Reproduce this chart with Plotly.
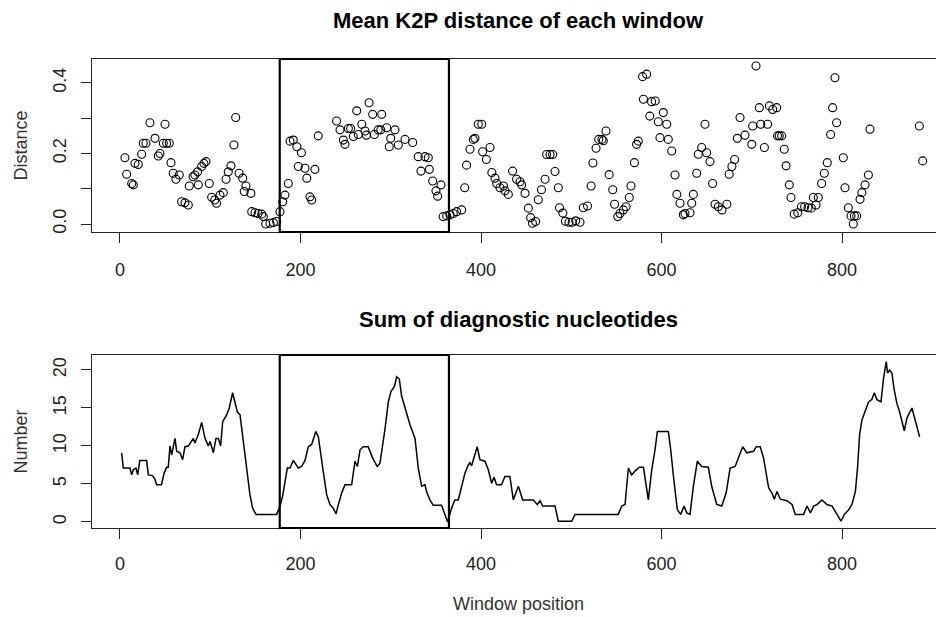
import plotly.graph_objects as go

# ---------------- data ----------------
window_top = [5.5, 7.4, 13, 14.8, 16.6, 20.3, 24, 25.8, 28.8, 33.2, 38.8, 42.5, 44.3, 48, 49.9,
              51.7, 54.6, 56.5, 59, 62, 65.7, 68.3, 72, 75.7, 76.8, 81, 83, 86, 86.8, 90.5,
              93, 95.3, 99, 101.6, 105, 107, 110.8, 114.5, 117.5, 120, 123, 126.3, 128.2, 132, 136,
              137.7, 139.6, 145, 146, 149.6, 153, 157, 158.8, 161.4, 166.2, 170, 173.6, 177.3, 180.3, 182.8,
              186.5, 188.4, 192, 196, 197.6, 201, 205, 207, 210.5, 212.4, 216, 219.7, 240, 243.8, 247.5,
              249.3, 253, 255.6, 258.5, 262.3, 264, 268, 271.5, 273, 276, 280, 281.8, 286, 289, 290,
              295.5, 298.4, 300, 304.7, 308.4, 315.8, 324.3, 330.5, 333.5, 338, 341.6, 342.7, 346.5, 350.1, 352,
              355.7, 358, 362, 365.6, 369.3, 373, 378.6, 382, 384, 387.8, 391.5, 393.3, 397, 400.8, 401.8,
              406, 410, 412, 415.5, 417.4, 421, 425, 426.6, 430.3, 435, 439.4, 443.2, 445, 448.8, 452.5,
              455, 457, 460.5, 463.5, 467, 471, 472.7, 476.5, 479.4, 482, 485.7, 487, 490.7, 493.5, 497.5,
              501, 505, 509.7, 513.4, 518, 522, 524, 527.5, 530.5, 534, 535.5, 538.5, 542, 546, 548,
              551.5, 554, 557.7, 560.7, 564.3, 566.2, 570, 572.4, 574.3, 579, 580, 583.5, 587, 589, 593,
              596.5, 598.3, 602, 605.8, 607.5, 611.3, 615, 617, 620.5, 624.2, 626, 631.6, 633.5, 635.3, 639,
              640.8, 644.5, 648.2, 650, 653.7, 656.6, 659.3, 663, 667, 672.4, 675, 678, 681, 684, 687,
              692.5, 700, 701, 704.7, 708.4, 710, 714, 717.6, 719.5, 723.2, 727.6, 728.5, 730.5, 733.2, 736,
              738, 741.6, 743.5, 747, 751, 755, 758.6, 762.3, 766, 768.2, 771.2, 773.7, 777.4, 780.4, 783.7,
              787.4, 789.6, 792.2, 794, 801.4, 803.3, 807, 810, 812.5, 813.7, 816.3, 820, 822, 825.5, 829.2,
              831, 885.7, 889.4]
k2p_distance = [0.188, 0.141, 0.115, 0.111, 0.172, 0.169, 0.198, 0.229, 0.229, 0.287, 0.243, 0.193, 0.2, 0.229, 0.283,
                0.229, 0.229, 0.174, 0.144, 0.127, 0.139, 0.063, 0.06, 0.054, 0.108, 0.134, 0.139, 0.148, 0.111, 0.163,
                0.172, 0.177, 0.115, 0.076, 0.068, 0.059, 0.082, 0.089, 0.127, 0.148, 0.165, 0.224, 0.302, 0.144, 0.13,
                0.092, 0.108, 0.087, 0.035, 0.032, 0.030, 0.028, 0.021, 0.0, 0.002, 0.004, 0.007, 0.035, 0.063, 0.082,
                0.115, 0.235, 0.238, 0.219, 0.163, 0.202, 0.158, 0.13, 0.077, 0.068, 0.155, 0.25, 0.292, 0.267, 0.238,
                0.226, 0.271, 0.271, 0.248, 0.321, 0.254, 0.283, 0.264, 0.252, 0.344, 0.311, 0.254, 0.267, 0.267, 0.311,
                0.273, 0.219, 0.243, 0.267, 0.224, 0.24, 0.231, 0.191, 0.15, 0.191, 0.188, 0.155, 0.122, 0.094, 0.079,
                0.111, 0.021, 0.023, 0.026, 0.03, 0.035, 0.04, 0.103, 0.167, 0.212, 0.24, 0.243, 0.283, 0.283, 0.205,
                0.183, 0.217, 0.146, 0.13, 0.115, 0.103, 0.108, 0.094, 0.084, 0.15, 0.127, 0.12, 0.111, 0.087, 0.045,
                0.018, 0.002, 0.007, 0.069, 0.097, 0.127, 0.197, 0.197, 0.197, 0.149, 0.103, 0.046, 0.031, 0.008, 0.005,
                0.005, 0.009, 0.005, 0.046, 0.051, 0.108, 0.173, 0.215, 0.24, 0.24, 0.236, 0.264, 0.14, 0.097, 0.056,
                0.021, 0.03, 0.04, 0.049, 0.075, 0.108, 0.174, 0.226, 0.235, 0.418, 0.354, 0.425, 0.306, 0.347, 0.349,
                0.29, 0.245, 0.316, 0.283, 0.24, 0.207, 0.139, 0.084, 0.059, 0.026, 0.03, 0.032, 0.059, 0.084, 0.144,
                0.198, 0.217, 0.283, 0.202, 0.177, 0.115, 0.056, 0.049, 0.04, 0.056, 0.141, 0.163, 0.183, 0.243, 0.302,
                0.252, 0.226, 0.278, 0.448, 0.33, 0.283, 0.217, 0.283, 0.335, 0.325, 0.33, 0.25, 0.25, 0.25, 0.212,
                0.165, 0.111, 0.075, 0.028, 0.032, 0.049, 0.049, 0.046, 0.045, 0.075, 0.054, 0.075, 0.115, 0.144, 0.174,
                0.254, 0.33, 0.415, 0.287, 0.188, 0.103, 0.046, 0.023, 0.0, 0.023, 0.023, 0.07, 0.089, 0.111, 0.139,
                0.269, 0.278, 0.179]

window_bottom = [1.8, 3.7, 11, 13, 14.8, 17.7, 19.6, 22, 29.5, 31.4, 36, 38.8, 40.6, 46, 48.8,
                 51.7, 53.5, 55.4, 57.2, 59, 61, 62.8, 66.5, 69.4, 72, 75.7, 79.4, 81.3, 83, 86.8,
                 90.5, 94.2, 97.9, 99.7, 101.6, 103.4, 106.4, 109, 111.5, 113.8, 118.2, 121.1, 124.8, 127.4, 130,
                 133, 136, 140.4, 144, 147, 150.7, 173.6, 177.3, 180.2, 184, 185.4, 188.4, 192, 197.6, 201.3,
                 205, 208.7, 212.4, 217, 219.8, 223.5, 226, 229, 232.7, 236.4, 239.3, 242, 245.6, 249.3, 256.7,
                 260.4, 263, 266, 269.6, 275, 280, 285, 288, 293.6, 297.3, 300.3, 304, 306.6, 309.5, 312,
                 316.9, 321.3, 326.9, 330.5, 334.2, 337.9, 339.7, 343.4, 347.1, 356.3, 360, 363, 367.4, 371, 374.8,
                 378.5, 382.2, 385.9, 387.7, 389.6, 393.2, 395.8, 398.8, 404.4, 408, 411.8, 414.4, 417.3, 422.8, 426.5,
                 432, 435.8, 441.4, 446.2, 458, 462.4, 465.4, 468.3, 482, 485.7, 500.5, 504.2, 552, 556, 559.6,
                 563.3, 567, 570.6, 575.4, 580, 585.4, 589, 592.8, 595.4, 607.6, 610.2, 613.9, 617.6, 621.3, 625,
                 628, 631.6, 635.3, 639.7, 644.5, 651.9, 655.6, 661.2, 666.7, 671.6, 676, 681.6, 686.4, 690, 694.6,
                 702, 705, 709.4, 713.1, 718.7, 722.4, 725, 728, 731.7, 739, 744.6, 748.3, 757.5, 761.2, 765,
                 768.6, 772.3, 777.8, 783.3, 789, 794.5, 798.9, 802.6, 807.4, 811, 814.8, 817.3, 819.5, 822, 825.7,
                 829.4, 833, 835.8, 838.7, 843.2, 846, 849, 850.5, 852.7, 855.3, 857.8, 860.8, 863.8, 869, 872,
                 877.5, 881.2, 886]
diag_sum = [9.1, 7.1, 7.1, 6.2, 6.9, 7.1, 6.2, 8.1, 8.1, 6.2, 6.1, 5.6, 4.9, 4.9, 6.4,
            7.2, 7.2, 10, 8.8, 9.7, 11, 9.3, 9.1, 8.2, 9.9, 10, 10.6, 11, 10.4, 11.5,
            13.1, 11, 10, 10.6, 9.9, 9.1, 11, 11, 10, 13.2, 14.1, 15, 17, 15.6, 14.5,
            14.1, 11.2, 7.3, 3.6, 1.8, 1.0, 1.0, 2.1, 3.4, 6.2, 7.1, 7.1, 8.1, 7.1, 7.3,
            8.1, 9.9, 10.2, 11.9, 11.2, 8.4, 6.0, 3.6, 2.3, 1.8, 1.05, 2.3, 3.8, 4.9, 4.9,
            8, 7.3, 9.5, 9.9, 9.9, 8.4, 7.3, 7.7, 12.2, 15.8, 17.2, 17.8, 19.1, 18.8, 16.6,
            14.5, 12.8, 11, 7.1, 4.7, 4.9, 4.0, 2.9, 2.2, 2.2, 1.0, 0, 1.8, 2.9, 2.9,
            4.7, 6.4, 7.5, 7.8, 7.4, 8.8, 9.9, 8.2, 8, 6.9, 5.1, 5.9, 4.9, 4.9, 6,
            6, 2.9, 4.7, 2.9, 2.9, 2.3, 2.8, 2.1, 2.1, 0.1, 0.1, 1.0, 1.0, 2.1, 2.3,
            7.1, 6.2, 6.7, 7.2, 7.2, 2.9, 6.7, 9.5, 11.9, 11.9, 9.5, 5.3, 1.6, 1.0, 2.1,
            1.2, 1.0, 4.7, 8, 7.3, 7.2, 4.7, 2.3, 2.1, 3.8, 7.1, 7.3, 8.8, 9.9, 9.1,
            9.3, 9.9, 9.9, 8.4, 4.5, 3.8, 3.0, 4.0, 3.0, 2.8, 2.3, 1.0, 1.0, 2.1, 1.2,
            2.1, 2.3, 2.9, 2.3, 2.1, 1.0, 0.1, 1.0, 1.6, 2.3, 4.0, 7.3, 11.5, 13.4, 14.5,
            15.8, 16.1, 17, 16.1, 15.8, 18.9, 21.1, 19.6, 20, 19.6, 17.4, 15.6, 14.5, 12, 13.7,
            15, 13.4, 11.2]

x_ticks = [0, 200, 400, 600, 800]
dist_ticks = [0.0, 0.1, 0.2, 0.3, 0.4]
dist_tick_text = ["0.0", "", "0.2", "", "0.4"]
num_ticks = [0, 5, 10, 15, 20]
highlight = [177, 364.5]

FONT = "Liberation Sans, Arial, sans-serif"

fig = go.Figure()
fig.add_trace(go.Scatter(x=window_top, y=k2p_distance, mode="markers",
                         marker=dict(symbol="circle-open", size=8, color="black",
                                     line=dict(width=1.1, color="black")),
                         xaxis="x", yaxis="y", showlegend=False))
fig.add_trace(go.Scatter(x=window_bottom, y=diag_sum, mode="lines",
                         line=dict(color="black", width=1.5),
                         xaxis="x2", yaxis="y2", showlegend=False))

axis_common = dict(showline=True, linecolor="#222", linewidth=1, ticks="outside",
                   ticklen=10, tickwidth=1, tickcolor="#222", showgrid=False, zeroline=False,
                   tickfont=dict(family=FONT, size=18, color="#222"))

# the page body adds an 8px offset, so the figure is 8px smaller on each axis
fig.update_layout(
    width=936, height=609,
    margin=dict(l=84, r=0, t=51, b=89),
    paper_bgcolor="white", plot_bgcolor="white",
    xaxis=dict(domain=[0, 1], anchor="y", range=[-31, 913], tickvals=x_ticks,
               mirror=True, ticklabelstandoff=11, **axis_common),
    yaxis=dict(domain=[0.6311, 1], anchor="x", range=[-0.0227, 0.468], tickvals=dist_ticks,
               ticktext=dist_tick_text, tickangle=-90, ticklabelstandoff=8, **axis_common),
    xaxis2=dict(domain=[0, 1], anchor="y2", range=[-31, 913], tickvals=x_ticks,
                mirror=True, ticklabelstandoff=9, **axis_common),
    yaxis2=dict(domain=[0, 0.3689], anchor="x2", range=[-0.79, 21.97], tickvals=num_ticks,
                tickangle=-90, ticklabelstandoff=8, **axis_common),
)

for xr, yr in (("x", "y domain"), ("x2", "y2 domain")):
    fig.add_shape(type="rect", xref=xr, yref=yr, x0=highlight[0], x1=highlight[1], y0=0, y1=1,
                  line=dict(color="black", width=2.2), fillcolor="rgba(0,0,0,0)")

annotations = [
    dict(text="<b>Mean K2P distance of each window</b>", x=0.5, y=1.083, xref="paper", yref="paper",
         showarrow=False, font=dict(family=FONT, size=22, color="black"), xanchor="center", yanchor="middle"),
    dict(text="<b>Sum of diagnostic nucleotides</b>", x=0.5, y=0.4456, xref="paper", yref="paper",
         showarrow=False, font=dict(family=FONT, size=22, color="black"), xanchor="center", yanchor="middle"),
    dict(text="Distance", x=-0.0833, y=0.8155, xref="paper", yref="paper", textangle=-90,
         showarrow=False, font=dict(family=FONT, size=18, color="#333"), xanchor="center", yanchor="middle"),
    dict(text="Number", x=-0.0833, y=0.1845, xref="paper", yref="paper", textangle=-90,
         showarrow=False, font=dict(family=FONT, size=18, color="#333"), xanchor="center", yanchor="middle"),
    dict(text="Window position", x=0.5, y=-0.162, xref="paper", yref="paper",
         showarrow=False, font=dict(family=FONT, size=18, color="#333"), xanchor="center", yanchor="middle"),
]
fig.update_layout(annotations=annotations)

fig.write_html("out.html")
